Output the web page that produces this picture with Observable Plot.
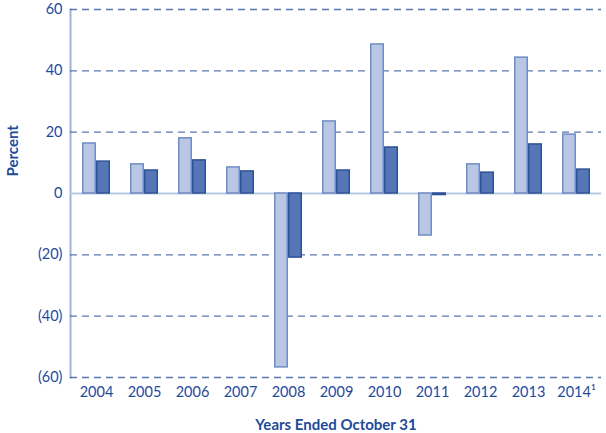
<!DOCTYPE html>
<html>
<head>
<meta charset="utf-8">
<script src="https://cdn.jsdelivr.net/npm/d3@7"></script>
<script src="https://cdn.jsdelivr.net/npm/@observablehq/plot@0.6"></script>
<style>
  html, body { margin: 0; padding: 0; background: #fff; }
  #chart svg { display: block; }
  g[aria-label="x-axis label"] text { font-weight: bold; font-size: 15px; }
</style>
</head>
<body>
<div id="chart"></div>
<script>
const years = ["2004","2005","2006","2007","2008","2009","2010","2011","2012","2013","2014"];
const seriesA = [16.3, 9.5, 18.0, 8.5, -56.7, 23.5, 48.6, -13.7, 9.5, 44.3, 19.2];
const seriesB = [10.4, 7.5, 10.8, 7.2, -20.9, 7.5, 15.0, -0.5, 6.8, 16.0, 7.8];
const yTicks = [-60, -40, -20, 0, 20, 40, 60];
const gridTicks = [-60, -40, -20, 20, 40, 60];

const dataA = years.map((y, i) => ({year: y, value: seriesA[i]}));
const dataB = years.map((y, i) => ({year: y, value: seriesB[i]}));

const textColor = "#1f4a96";

const chart = Plot.plot({
  width: 606,
  height: 433,
  marginLeft: 70,
  marginRight: 5,
  marginTop: 9,
  marginBottom: 56,
  style: {fontFamily: "Lato, 'Open Sans', sans-serif", fontSize: "14.5px", color: textColor, background: "#fff"},
  x: {domain: years, paddingInner: 0.42, paddingOuter: 0.21},
  y: {domain: [-60, 60], ticks: yTicks},
  marks: [
    Plot.frame({anchor: "left", stroke: "#9fb3da", strokeWidth: 2}),
    Plot.ruleY(gridTicks, {stroke: "#3a5fa8", strokeDasharray: "7,5", strokeWidth: 1.3, strokeOpacity: 0.85}),
    Plot.ruleY([0], {stroke: "#b8c8e2", strokeWidth: 2}),
    Plot.barY(dataA, {x: "year", y: "value", fill: "#b8c8e2", stroke: "#6f8dc6", strokeWidth: 1.5,
      insetLeft: 0.75, insetRight: 14.75}),
    Plot.barY(dataB, {x: "year", y: "value", fill: "#5577b5", stroke: "#2d5299", strokeWidth: 1.5,
      insetLeft: 14.75, insetRight: 0.75}),
    Plot.axisY({ticks: yTicks, tickSize: 0, tickPadding: 8, fill: textColor, fontSize: 14.5,
      tickFormat: d => d < 0 ? `(${-d})` : `${d}`, label: null}),
    Plot.text(["Percent"], {frameAnchor: "left", dx: -57, dy: -17, rotate: -90, fill: textColor,
      fontWeight: "bold", fontSize: 15}),
    Plot.axisX({anchor: "bottom", tickSize: 0, tickPadding: 9, fill: textColor, fontSize: 14.5,
      tickFormat: d => d === "2014" ? "2014\u00B9" : d,
      label: "Years Ended October 31", labelAnchor: "center", labelOffset: 52, labelArrow: "none"})
  ]
});
document.getElementById("chart").appendChild(chart);
</script>
</body>
</html>
